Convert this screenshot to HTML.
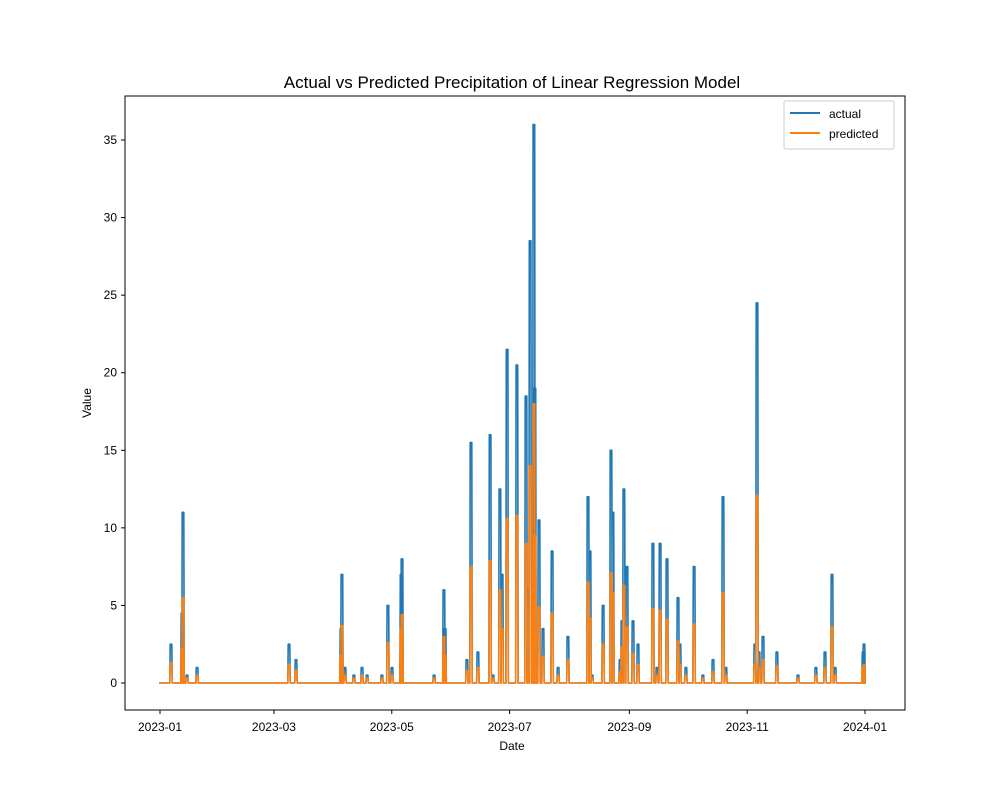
<!DOCTYPE html>
<html><head><meta charset="utf-8"><style>
body{margin:0;background:#fff;}
svg text{font-family:"Liberation Sans","Noto Sans CJK KR",sans-serif;fill:#000;}
</style></head><body>
<svg id="chart" width="1000" height="800" viewBox="0 0 1000 800" xmlns="http://www.w3.org/2000/svg">
<rect width="1000" height="800" fill="#fff"/>
<text x="512" y="88" font-size="17" text-anchor="middle">Actual vs Predicted Precipitation of Linear Regression Model</text>
<g id="plot"></g>
<rect x="125" y="96" width="780" height="614" fill="none" stroke="#000" stroke-width="1"/>
<g id="axes"></g>
<text x="512" y="750" font-size="12" text-anchor="middle">Date</text>
<text x="91" y="403" font-size="12" text-anchor="middle" transform="rotate(-90 91 403)">Value</text>
<g>
<rect x="784" y="101" width="110" height="48" rx="2" fill="#fff" stroke="#ccc"/>
<line x1="790" y1="113" x2="820" y2="113" stroke="#1f77b4" stroke-width="2"/>
<text x="829" y="118" font-size="12">actual</text>
<line x1="790" y1="133" x2="820" y2="133" stroke="#ff7f0e" stroke-width="2"/>
<text x="829" y="138" font-size="12">predicted</text>
</g>
</svg>
<script>
// day-of-year (0 = 2023-01-01) of rain events
const days = [5.7,11.4,11.9,14,19.2,66.8,70.4,93.7,94.2,95.8,100.4,104.6,107.2,114.9,118,120.1,124.8,125.3,141.9,147,147.6,158.9,161,164.6,170.9,172.4,176,177.1,179.7,184.8,189.5,190.5,191.6,193.6,194.1,196.2,198.3,203,206.1,211.2,221.6,222.6,223.7,229.4,233.5,234.5,238.2,239.2,240.2,241.8,244.9,247.5,255.2,257.3,258.9,262.5,268.2,269.2,272.3,276.5,281.1,286.3,291.5,293,308,309.1,310.1,312.2,319.4,330.3,339.6,344.3,347.9,349.5,364,364.5];
const actual = [2.5,4.5,11,0.5,1,2.5,1.5,3.5,7,1,0.5,1,0.5,0.5,5,1,7,8,0.5,6,3.5,1.5,15.5,2,16,0.5,12.5,7,21.5,20.5,18.5,6,28.5,36,19,10.5,3.5,8.5,1,3,12,8.5,0.5,5,15,11,1.5,4,12.5,7.5,4,2.5,9,1,9,8,5.5,2.5,1,7.5,0.5,1.5,12,1,2.5,24.5,2,3,2,0.5,1,2,7,1,2,2.5];
const predicted = [1.3,2.2,5.5,0.3,0.5,1.2,0.8,1.8,3.7,0.5,0.3,0.5,0.3,0.3,2.6,0.5,3.5,4.4,0.3,3,1.8,0.8,7.5,1,7.9,0.3,6,3.5,10.6,10.8,9,3,14,18,9.5,4.9,1.7,4.5,0.5,1.5,6.5,4.2,0.3,2.5,7.1,5.8,0.7,2.3,6.3,3.6,1.9,1.2,4.8,0.5,4.7,4.1,2.7,1.2,0.5,3.8,0.3,0.7,5.8,0.5,1.2,12.1,1,1.5,1.1,0.3,0.5,1,3.6,0.5,1,1.2];
const yTicks = [0,5,10,15,20,25,30,35];
const xTickDays = [0,59,120,181,243,304,365];
const xTickLabels = ["2023-01","2023-03","2023-05","2023-07","2023-09","2023-11","2024-01"];

const NS = "http://www.w3.org/2000/svg";
const xs = d => 160 + d * (705 / 365);
const ys = v => 683 - v * (543 / 35);
const plot = document.getElementById('plot');
const axes = document.getElementById('axes');

function seriesPoints(vals) {
  const pts = [[xs(-0.5), ys(0)]];
  days.forEach((d, i) => {
    pts.push([xs(d) - 1.2, ys(0)], [xs(d) - 0.8, ys(vals[i])], [xs(d) + 0.8, ys(vals[i])], [xs(d) + 1.2, ys(0)]);
  });
  pts.push([xs(365.5), ys(0)]);
  return pts.map(p => p[0].toFixed(1) + ',' + p[1].toFixed(1)).join(' ');
}
function addLine(vals, color, name) {
  const pl = document.createElementNS(NS, 'polyline');
  pl.setAttribute('points', seriesPoints(vals));
  pl.setAttribute('fill', 'none');
  pl.setAttribute('stroke', color);
  pl.setAttribute('stroke-width', '1.6');
  pl.setAttribute('stroke-linejoin', 'round');
  
  
  plot.appendChild(pl);
}
addLine(actual, '#1f77b4', 'actual-line');
addLine(predicted, '#ff7f0e', 'predicted-line');

yTicks.forEach(v => {
  const y = ys(v);
  const t = document.createElementNS(NS, 'line');
  t.setAttribute('x1', 121); t.setAttribute('x2', 125);
  t.setAttribute('y1', y); t.setAttribute('y2', y);
  t.setAttribute('stroke', '#000');
  
  
  axes.appendChild(t);
  const l = document.createElementNS(NS, 'text');
  l.setAttribute('x', 117); l.setAttribute('y', y + 4);
  l.setAttribute('font-size', '12'); l.setAttribute('text-anchor', 'end');
  l.textContent = v;
  
  
  axes.appendChild(l);
});
xTickDays.forEach((d, i) => {
  const x = xs(d);
  const t = document.createElementNS(NS, 'line');
  t.setAttribute('x1', x); t.setAttribute('x2', x);
  t.setAttribute('y1', 710); t.setAttribute('y2', 714);
  t.setAttribute('stroke', '#000');
  
  
  axes.appendChild(t);
  const l = document.createElementNS(NS, 'text');
  l.setAttribute('x', x); l.setAttribute('y', 731);
  l.setAttribute('font-size', '12'); l.setAttribute('text-anchor', 'middle');
  l.textContent = xTickLabels[i];
  
  
  axes.appendChild(l);
});
</script>
</body></html>
